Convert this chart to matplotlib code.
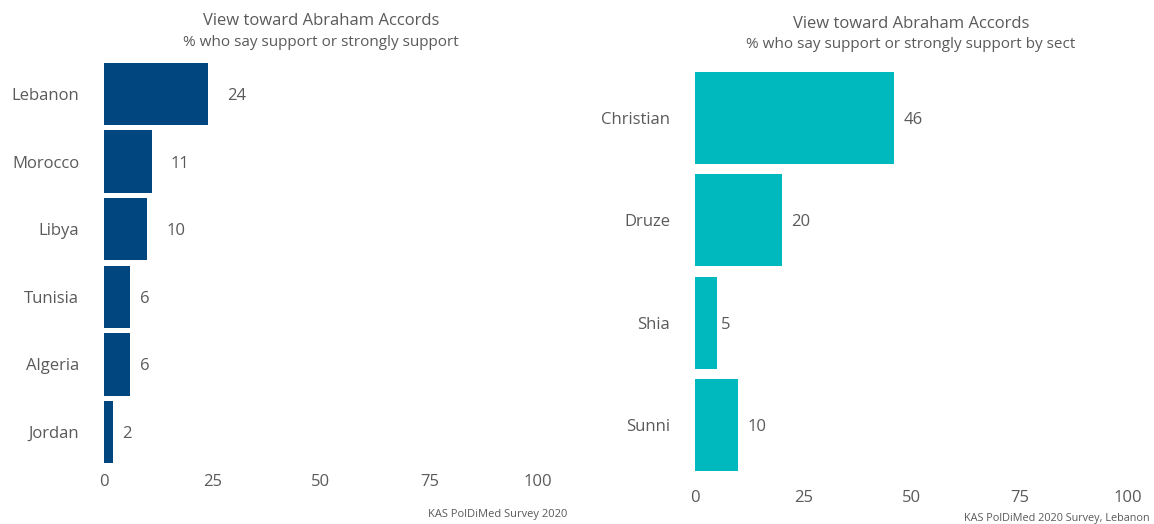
import matplotlib
matplotlib.use("Agg")
import matplotlib.pyplot as plt

# 数据
countries = ["Lebanon", "Morocco", "Libya", "Tunisia", "Algeria", "Jordan"]
country_support = [24, 11, 10, 6, 6, 2]

sects = ["Christian", "Druze", "Shia", "Sunni"]
sect_support = [46, 20, 5, 10]

x_ticks = [0, 25, 50, 75, 100]

plt.rcParams['font.family'] = ['Open Sans', 'DejaVu Sans']
text_gray = '#5a5a5a'

W, H = 1154, 524
fig = plt.figure(figsize=(W / 100, H / 100), dpi=100)


def px_axes(left, top, right, bottom):
    # 像素坐标转换为figure坐标
    return fig.add_axes([left / W, 1 - bottom / H, (right - left) / W, (bottom - top) / H])


def draw_panel(ax, labels, values, color, bar_h, hjust_frac, tick_pad):
    ypos = list(range(len(labels)))
    ax.barh(ypos, values, height=bar_h, color=color)
    ax.set_xlim(0, 100)
    ax.set_ylim(len(labels) - 0.5, -0.5)
    ax.set_yticks(ypos)
    ax.set_yticklabels(labels)
    ax.set_xticks(x_ticks)
    ax.tick_params(axis='both', length=0, labelsize=12, colors=text_gray)
    ax.tick_params(axis='y', pad=18)
    ax.tick_params(axis='x', pad=tick_pad)
    for s in ax.spines.values():
        s.set_visible(False)
    # 数值标签
    for y, v in zip(ypos, values):
        s = str(v)
        off = hjust_frac * len(s) * 9.5 * 0.72
        ax.annotate(s, (v, y), xytext=(off, 0), textcoords='offset points',
                    ha='left', va='center_baseline', fontsize=12, color=text_gray)


ax1 = px_axes(104, 60, 538, 466)
draw_panel(ax1, countries, country_support, '#02467f', 0.92, 1.0, 6)

ax2 = px_axes(695, 67, 1128, 476)
draw_panel(ax2, sects, sect_support, '#00b9bf', 0.9, 0.5, 10)

# 标题
fig.text(321 / W, 1 - 21 / H, "View toward Abraham Accords", ha='center', va='center',
         fontsize=12, color=text_gray)
fig.text(321 / W, 1 - 42 / H, "% who say support or strongly support", ha='center', va='center',
         fontsize=11, color=text_gray)
fig.text(911 / W, 1 - 24 / H, "View toward Abraham Accords", ha='center', va='center',
         fontsize=12, color=text_gray)
fig.text(911 / W, 1 - 45 / H, "% who say support or strongly support by sect", ha='center', va='center',
         fontsize=11, color=text_gray)

# 来源
fig.text(498 / W, 1 - 514 / H, "KAS PolDiMed Survey 2020", ha='center', va='center',
         fontsize=8, color=text_gray)
fig.text(1150 / W, 1 - 518 / H, "KAS PolDiMed 2020 Survey, Lebanon", ha='right', va='center',
         fontsize=7.8, color=text_gray)

fig.savefig("out.png", dpi=100)
